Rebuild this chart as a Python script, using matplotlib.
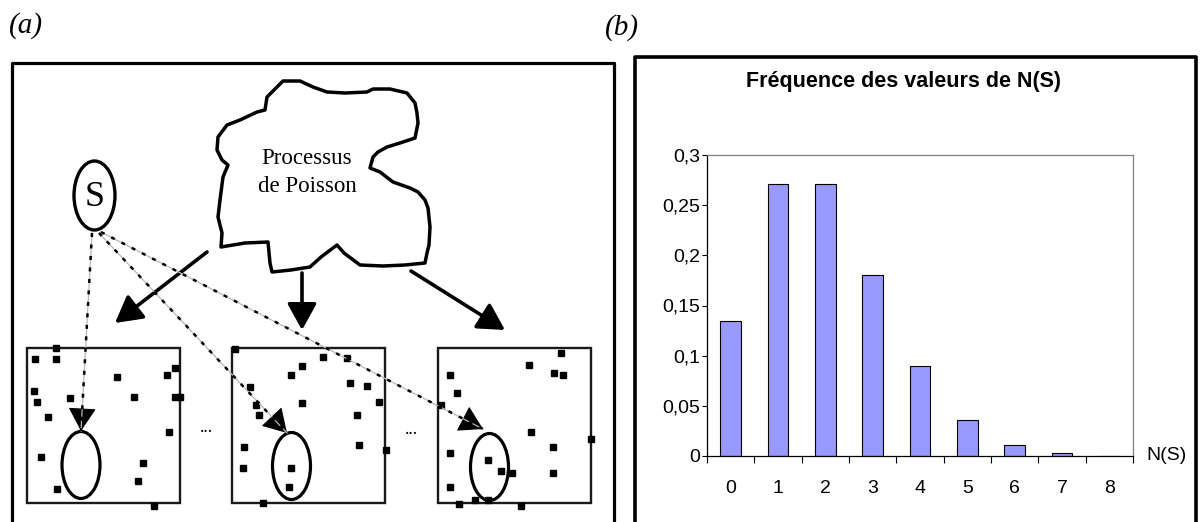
import numpy as np
import matplotlib.pyplot as plt
from matplotlib.patches import Ellipse, Rectangle, Polygon, FancyArrowPatch

# ---- panel (b): frequency of N(S)
ns_values = [0, 1, 2, 3, 4, 5, 6, 7, 8]
ns_freq = [0.135, 0.271, 0.271, 0.18, 0.09, 0.036, 0.011, 0.003, 0.0]
y_ticks = [0, 0.05, 0.1, 0.15, 0.2, 0.25, 0.3]
y_tick_labels = ['0', '0,05', '0,1', '0,15', '0,2', '0,25', '0,3']

# ---- panel (a): diagram, pixel coordinates (y downwards)
cloud_x = [283, 300, 313, 327, 345, 367, 373, 390, 407, 415, 417, 418, 415, 400,
           387, 378, 373, 370, 380, 393, 410, 418, 425, 428, 430, 429, 427, 425,
           405, 383, 360, 344, 337, 321, 310, 291, 272, 270, 268, 245, 221, 222,
           218, 220, 223, 228, 222, 217, 218, 227, 240, 257, 265, 267]
cloud_y = [81, 81, 87, 92, 93, 92, 89, 89, 93, 103, 113, 123, 138, 143,
           147, 152, 157, 168, 172, 182, 188, 192, 200, 208, 227, 245, 253, 263,
           265, 266, 265, 253, 245, 257, 267, 270, 272, 263, 242, 243, 247, 233,
           217, 200, 177, 165, 160, 150, 137, 125, 120, 112, 110, 97]

box_left = [27, 232, 438]
box_top = 348
box_w, box_h = 153, 155
zone_cx = [81, 291.5, 489.5]
zone_cy = [465, 466, 467]

dots_x = [56, 35, 56, 117, 167, 175, 34, 37, 70, 134, 175, 180, 48, 169, 41, 143, 138, 57, 154,
          235, 323, 347, 302, 291, 350, 367, 250, 379, 302, 256, 259, 357, 359, 386, 244, 243, 291, 289, 263,
          561, 529, 554, 563, 450, 457, 441, 531, 591, 553, 450, 488, 501, 512, 553, 450, 459, 475, 488, 521]
dots_y = [348, 359, 359, 377, 375, 368, 391, 402, 398, 397, 397, 397, 417, 432, 457, 463, 481, 489, 506,
          349, 357, 358, 366, 375, 383, 386, 387, 402, 403, 405, 415, 415, 445, 450, 447, 468, 468, 487, 503,
          353, 365, 373, 375, 375, 393, 405, 432, 439, 447, 453, 460, 471, 473, 473, 487, 504, 500, 500, 506]

# arrows from the Poisson process to each realisation
proc_start = [(207, 252), (302, 273), (411, 271)]
proc_end = [(115, 323), (302, 330), (505, 330)]
# dash-dot arrows from S to its copy in each realisation
s_start = [(92, 233), (99, 233), (101, 232)]
s_end = [(81, 431), (287, 433), (483, 429)]

fig = plt.figure(figsize=(12, 5.22), dpi=100)
ax0 = fig.add_axes([0, 0, 1, 1])
ax0.set_xlim(0, 1200)
ax0.set_ylim(522, 0)
ax0.axis('off')

serif = 'Liberation Serif'
sans = 'Liberation Sans'

ax0.text(9, 26, '(a)', fontsize=21, family=serif, style='italic', va='center', ha='left')
ax0.text(605, 28, '(b)', fontsize=21, family=serif, style='italic', va='center', ha='left')

# outer frames (open at the bottom)
ax0.plot([12, 12, 614, 614], [540, 63, 63, 540], color='black', lw=2.3)
ax0.plot([635, 635, 1196, 1196], [540, 57, 57, 540], color='black', lw=2.6)

# cloud
ax0.add_patch(Polygon(np.column_stack([cloud_x, cloud_y]), closed=True, fill=False,
                      ec='black', lw=2.5, joinstyle='round'))
ax0.text(307, 158, 'Processus', family=serif, fontsize=16.5, ha='center', va='center')
ax0.text(307, 186, 'de Poisson', family=serif, fontsize=16.5, ha='center', va='center')

# S
ax0.add_patch(Ellipse((94.5, 195.5), 41, 69, fill=False, ec='black', lw=2.4))
ax0.text(94.5, 197, 'S', family=serif, fontsize=26, ha='center', va='center')

# realisations
for i in range(3):
    ax0.add_patch(Rectangle((box_left[i], box_top), box_w, box_h, fill=False, ec='#1a1a1a', lw=1.7))
    ax0.add_patch(Ellipse((zone_cx[i], zone_cy[i]), 38, 67, fill=False, ec='black', lw=2.3))
ax0.plot(dots_x, dots_y, 's', color='black', ms=5, ls='none')
ax0.text(206, 428, '...', fontsize=13, ha='center', va='center', family=serif)
ax0.text(411, 430, '...', fontsize=13, ha='center', va='center', family=serif)

for (x0, y0), (x1, y1) in zip(proc_start, proc_end):
    ax0.add_patch(FancyArrowPatch((x0, y0), (x1, y1), arrowstyle='-|>,head_length=0.45,head_width=0.25',
                                  mutation_scale=36, lw=2.6, color='black', shrinkA=0, shrinkB=0))

for (x0, y0), (x1, y1) in zip(s_start, s_end):
    ax0.plot([x0, x1], [y0, y1], color='#b8b8b8', lw=0.9)
    ax0.plot([x0, x1], [y0, y1], color='black', lw=1.8, ls=(0, (1.6, 3.0)))
    d = np.hypot(x1 - x0, y1 - y0)
    hx, hy = x1 - (x1 - x0) / d * 22, y1 - (y1 - y0) / d * 22
    ax0.add_patch(FancyArrowPatch((hx, hy), (x1, y1), arrowstyle='-|>,head_length=0.5,head_width=0.3',
                                  mutation_scale=30, lw=0.8, color='black', shrinkA=0, shrinkB=0))

# ---- bar chart
ax0.text(903, 82, 'Fréquence des valeurs de N(S)', family=sans, fontsize=15.5, weight='bold',
         ha='center', va='center')
ax0.text(1146, 455, 'N(S)', family=sans, fontsize=14, ha='left', va='center')

ax = fig.add_axes([707 / 1200, 1 - 456 / 522, 426 / 1200, 301 / 522])
ax.set_facecolor('none')
ax.bar(ns_values, ns_freq, width=0.44, color='#9999ff', edgecolor='black', lw=0.8)
ax.set_xlim(-0.5, 8.5)
ax.set_ylim(0, 0.3)
ax.set_yticks(y_ticks, y_tick_labels)
ax.set_xticks(np.arange(-0.5, 9.0, 1.0))
ax.set_xticklabels([])
ax.set_xticks(ns_values, [str(v) for v in ns_values], minor=True)
ax.tick_params(axis='x', which='major', length=4.8, width=0.8, direction='out')
ax.tick_params(axis='x', which='minor', length=0, pad=17, labelsize=14)
ax.tick_params(axis='y', length=3.6, width=0.8, pad=1.5, labelsize=14)
for lab in ax.get_xticklabels(minor=True) + ax.get_yticklabels():
    lab.set_family(sans)
for side in ['left', 'bottom']:
    ax.spines[side].set_color('black')
    ax.spines[side].set_linewidth(0.9)
for side in ['top', 'right']:
    ax.spines[side].set_color('#808080')
    ax.spines[side].set_linewidth(0.9)

fig.savefig('out.png', dpi=100)
